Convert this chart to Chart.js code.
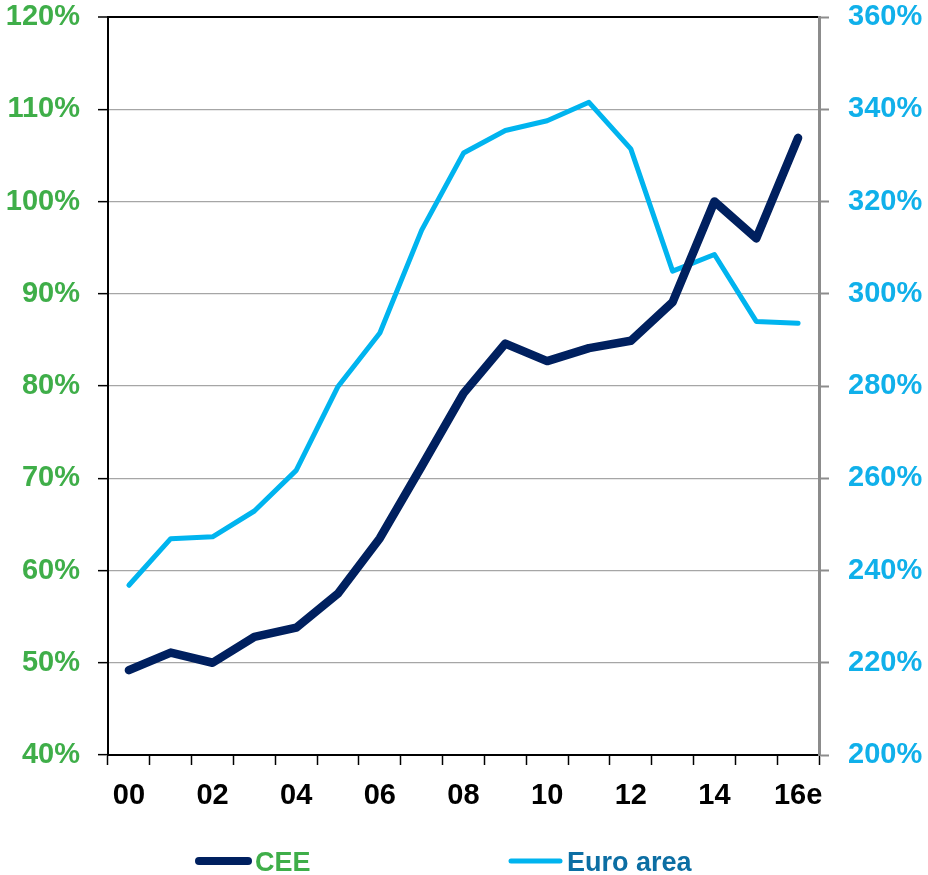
<!DOCTYPE html>
<html>
<head>
<meta charset="utf-8">
<script src="https://cdn.jsdelivr.net/npm/chart.js@4"></script>
<style>
html,body{margin:0;padding:0;background:#fff;}
#wrap{width:928px;height:875px;position:relative;}
</style>
</head>
<body>
<div id="wrap"><canvas id="c"></canvas></div>
<script>
const categories = ["00","01","02","03","04","05","06","07","08","09","10","11","12","13","14","15","16e"];
const ceeValues = [49.2, 51.1, 50.0, 52.8, 53.8, 57.5, 63.5, 71.3, 79.2, 84.6, 82.7, 84.1, 84.9, 89.1, 100.0, 96.0, 106.9];
const euroAreaValues = [236.8, 246.9, 247.3, 252.9, 261.7, 279.9, 291.5, 313.8, 330.5, 335.4, 337.5, 341.5, 331.4, 304.9, 308.5, 294.0, 293.6];
const seriesNames = ["CEE", "Euro area"];
const leftTicks = [40, 50, 60, 70, 80, 90, 100, 110, 120];
const rightTicks = [200, 220, 240, 260, 280, 300, 320, 340, 360];

const FONT = "'Liberation Sans', Arial, sans-serif";
const NAVY = '#00205f';
const LIGHT = '#00b4ef';
const GREEN = '#3fae49';
const LEGEND_TEXT = ['#3fae49', '#0c6ea3'];

const bottomLegend = {
  id: 'bottomLegend',
  afterDraw(chart) {
    const {ctx, chartArea} = chart;
    const y = 861;
    const starts = [chartArea.left + 87, chartArea.left + 399];
    const lineLen = 57;
    ctx.save();
    chart.data.datasets.forEach((ds, i) => {
      const x0 = starts[i];
      ctx.beginPath();
      ctx.lineCap = 'round';
      ctx.strokeStyle = ds.borderColor;
      ctx.lineWidth = i === 0 ? 8 : 5;
      ctx.moveTo(x0 + 4, y);
      ctx.lineTo(x0 + lineLen - 4, y);
      ctx.stroke();
      ctx.fillStyle = LEGEND_TEXT[i];
      ctx.font = "bold 27px " + FONT;
      ctx.textBaseline = 'alphabetic';
      ctx.textAlign = 'left';
      ctx.fillText(ds.label, x0 + lineLen + 3, y + 10);
    });
    ctx.restore();
  }
};

new Chart(document.getElementById('c'), {
  type: 'line',
  data: {
    labels: categories,
    datasets: [
      {
        label: seriesNames[0],
        data: ceeValues,
        yAxisID: 'yL',
        borderColor: NAVY,
        backgroundColor: NAVY,
        borderWidth: 8.5,
        pointRadius: 0,
        tension: 0,
        borderCapStyle: 'round',
        borderJoinStyle: 'round',
        fill: false
      },
      {
        label: seriesNames[1],
        data: euroAreaValues,
        yAxisID: 'yR',
        borderColor: LIGHT,
        backgroundColor: LIGHT,
        borderWidth: 5,
        pointRadius: 0,
        tension: 0,
        borderCapStyle: 'round',
        borderJoinStyle: 'round',
        fill: false
      }
    ]
  },
  options: {
    responsive: true,
    maintainAspectRatio: false,
    animation: false,
    layout: { padding: { top: 17, bottom: 55, left: 0, right: 0 } },
    plugins: {
      legend: { display: false },
      tooltip: { enabled: false }
    },
    scales: {
      x: {
        type: 'category',
        offset: true,
        grid: {
          offset: true,
          drawOnChartArea: false,
          drawTicks: true,
          tickLength: 10,
          tickColor: '#000',
          tickWidth: 1.5
        },
        border: { color: '#000', width: 2 },
        ticks: {
          autoSkip: false,
          maxRotation: 0,
          minRotation: 0,
          padding: 14,
          color: '#000',
          font: { family: FONT, size: 29, weight: 'bold' },
          callback: (v, i) => (i % 2 === 0 ? categories[i] : '')
        },
        afterFit: (s) => { s.height = 65; s.paddingLeft = 0; s.paddingRight = 0; }
      },
      yL: {
        type: 'linear',
        position: 'left',
        min: leftTicks[0],
        max: leftTicks[leftTicks.length - 1],
        afterBuildTicks: (s) => { s.ticks = leftTicks.map(v => ({ value: v })); },
        grid: {
          color: (c) => (c.tick && c.tick.value === 120 ? '#000' : '#a6a6a6'),
          lineWidth: (c) => (c.tick && c.tick.value === 120 ? 2 : 1.3),
          tickColor: '#000',
          tickLength: 10,
          tickWidth: 1.5
        },
        border: { color: '#000', width: 2 },
        ticks: {
          padding: 18,
          color: GREEN,
          font: { family: FONT, size: 29, weight: 'bold' },
          callback: (v) => v + '%'
        },
        afterFit: (s) => { s.width = 108; s.paddingTop = 0; s.paddingBottom = 0; }
      },
      yR: {
        type: 'linear',
        position: 'right',
        min: rightTicks[0],
        max: rightTicks[rightTicks.length - 1],
        afterBuildTicks: (s) => { s.ticks = rightTicks.map(v => ({ value: v })); },
        grid: {
          drawOnChartArea: false,
          tickColor: '#8c8c8c',
          tickLength: 10,
          tickWidth: 2
        },
        border: { color: '#8c8c8c', width: 3 },
        ticks: {
          padding: 19,
          color: '#10b0ea',
          font: { family: FONT, size: 29, weight: 'bold' },
          callback: (v) => v + '%'
        },
        afterFit: (s) => { s.width = 109; s.paddingTop = 0; s.paddingBottom = 0; }
      }
    }
  },
  plugins: [bottomLegend]
});
</script>
</body>
</html>
